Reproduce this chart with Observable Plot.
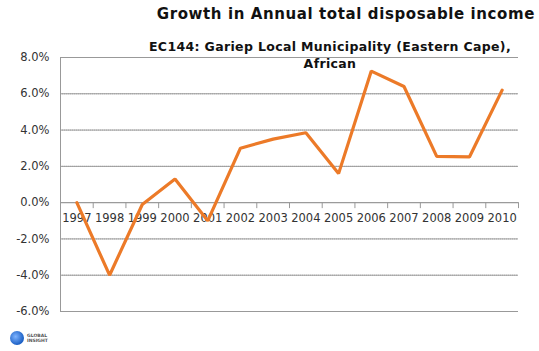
<!DOCTYPE html>
<html>
<head>
<meta charset="utf-8">
<script src="https://cdn.jsdelivr.net/npm/d3@7"></script>
<script src="https://cdn.jsdelivr.net/npm/@observablehq/plot@0.6"></script>
<style>
  html, body { margin: 0; padding: 0; background: #fff; }
  #wrap { position: relative; width: 539px; height: 351px; overflow: hidden; font-family: "DejaVu Sans", Verdana, sans-serif; }
  #title { position: absolute; right: 4px; top: 5px; font-size: 15px; letter-spacing: 0.6px; font-weight: bold; color: #111; white-space: nowrap; }
  #subtitle { position: absolute; left: 100px; width: 460px; top: 38px; font-size: 12.5px; letter-spacing: 0.35px; font-weight: bold; color: #111; text-align: center; line-height: 17px; }
  #logo { position: absolute; left: 10px; top: 331px; display: flex; align-items: center; gap: 3px; }
  #logo .c { width: 14px; height: 14px; border-radius: 50%; background: radial-gradient(circle at 40% 40%, #7fb4ff, #1b5fc4 70%); }
  #logo .t { font-size: 4.5px; line-height: 5px; color: #555; font-weight: bold; }
</style>
</head>
<body>
<div id="wrap">
  <div id="chart"></div>
  <div id="title">Growth in Annual total disposable income</div>
  <div id="subtitle">EC144: Gariep Local Municipality (Eastern Cape),<br>African</div>
  <div id="logo"><div class="c"></div><div class="t">GLOBAL<br>INSIGHT</div></div>
</div>
<script>
const years = [1997, 1998, 1999, 2000, 2001, 2002, 2003, 2004, 2005, 2006, 2007, 2008, 2009, 2010];
const growth = [0.0, -4.0, -0.1, 1.3, -1.0, 3.0, 3.5, 3.85, 1.6, 7.25, 6.4, 2.55, 2.52, 6.2];
const yTicks = [-6, -4, -2, 0, 2, 4, 6, 8];

const data = years.map((y, i) => ({year: y, value: growth[i]}));
const bounds = years.map(y => y - 0.5).concat([years[years.length - 1] + 0.5]);

const chart = Plot.plot({
  width: 539,
  height: 351,
  marginLeft: 60,
  marginRight: 21,
  marginTop: 57,
  marginBottom: 40,
  style: {fontFamily: "DejaVu Sans, Verdana, sans-serif", fontSize: "11px", color: "#333", background: "transparent"},
  x: {domain: [years[0] - 0.5, years[years.length - 1] + 0.5], axis: null},
  y: {domain: [-6, 8], axis: null},
  marks: [
    Plot.ruleY(yTicks.filter(d => d !== 0), {stroke: "#b5b5b5", strokeDasharray: "1,1", strokeWidth: 1}),
    Plot.ruleY([0], {stroke: "#999", strokeWidth: 1}),
    Plot.ruleX([years[0] - 0.5], {stroke: "#999", strokeWidth: 1}),
    Plot.ruleX(bounds, {x: d => d, y1: 0, y2: -0.33, stroke: "#999", strokeWidth: 1}),
    Plot.tickY(yTicks, {y: d => d, x1: years[0] - 0.5, x2: years[0] - 0.62, stroke: "#999"}),
    Plot.text(yTicks, {y: d => d, x: years[0] - 0.5, dx: -11, text: d => d.toFixed(1) + "%", textAnchor: "end", fill: "#333", fontSize: 11.5}),
    Plot.text(years, {x: d => d, y: 0, dy: 16, text: d => String(d), fill: "#333", fontSize: 11.5}),
    Plot.line(data, {x: "year", y: "value", stroke: "#ec7a28", strokeWidth: 3.2, strokeLinejoin: "miter"})
  ]
});
document.getElementById("chart").appendChild(chart);
</script>
</body>
</html>
